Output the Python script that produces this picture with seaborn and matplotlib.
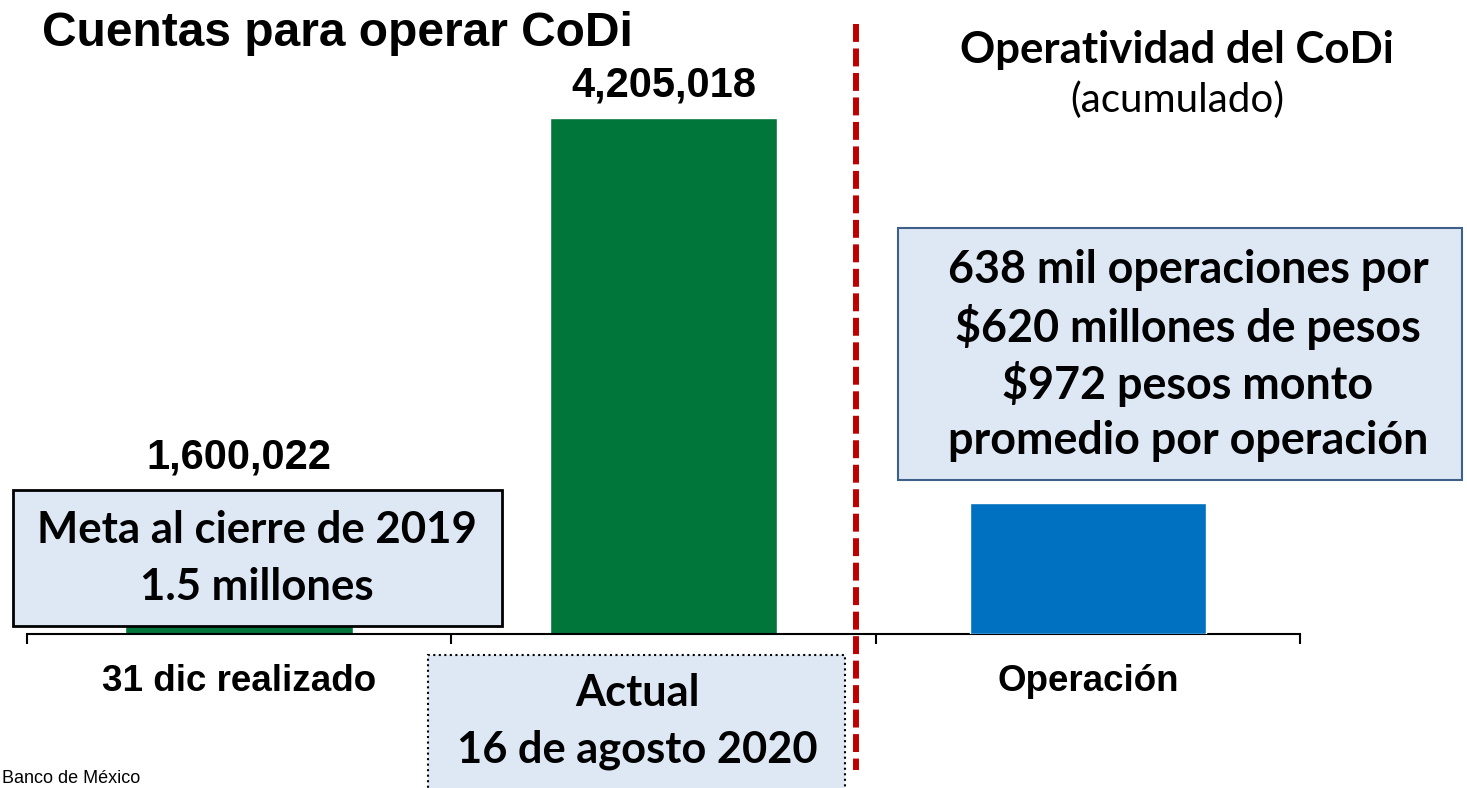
import matplotlib
matplotlib.use("Agg")
import matplotlib.pyplot as plt
import seaborn as sns
import pandas as pd
from matplotlib.patches import Rectangle
from matplotlib.lines import Line2D

# datos
categorias = ["31 dic realizado", "16 de agosto 2020", "Operación"]
etiquetas_eje = ["31 dic realizado", "", "Operación"]
cuentas = [1600022, 4205018]
etiquetas_cuentas = ["1,600,022", "4,205,018"]
operaciones_mil = [638]

verde = "#00763A"
azul = "#0070C0"
rojo = "#C00000"
relleno = "#DDE8F4"

W, H = 1467, 788
def fx(px):
    return px / W
def fy(py):
    return 1 - py / H

sns.set_style("white")
arial = ["Liberation Sans", "DejaVu Sans"]
calibri = ["Lato", "DejaVu Sans"]
plt.rcParams["font.family"] = arial
plt.rcParams["text.color"] = "black"
plt.rcParams["xtick.color"] = "black"
plt.rcParams["xtick.labelcolor"] = "black"

fig = plt.figure(figsize=(W / 100, H / 100), dpi=100)
ax = fig.add_axes([fx(27), 154 / H, 1273 / W, 614 / H])

df_cuentas = pd.DataFrame({"cat": categorias[:2], "valor": cuentas})
sns.barplot(data=df_cuentas, x="cat", y="valor", order=categorias, color=verde,
            saturation=1, width=0.536, ax=ax)
ax.set_xlim(-0.5, 2.5)
ax.set_ylim(592000, 4892000)

for i, (v, lbl) in enumerate(zip(cuentas, etiquetas_cuentas)):
    ax.annotate(lbl, (i, v), xytext=(0, 23.5), textcoords="offset points",
                ha="center", va="center", fontsize=30, fontweight="bold")

# eje secundario para las operaciones
ax2 = ax.twinx()
df_op = pd.DataFrame({"cat": [categorias[2]], "valor": operaciones_mil})
sns.barplot(data=df_op, x="cat", y="valor", order=categorias, color=azul,
            saturation=1, width=0.556, ax=ax2)
ax2.set_ylim(0, 638 * 614 / 131)
ax2.set_xlim(-0.5, 2.5)
ax2.axis("off")

for s in ["top", "right", "left"]:
    ax.spines[s].set_visible(False)
ax.spines["bottom"].set_color("black")
ax.spines["bottom"].set_linewidth(1.5)
ax.set_yticks([])
ax.set_xlabel("")
ax.set_ylabel("")
ax.set_xticks([0, 1, 2])
ax.set_xticklabels(etiquetas_eje, fontsize=26.5, fontweight="bold")
ax.set_xticks([-0.5, 0.5, 1.5, 2.5], minor=True)
ax.tick_params(axis="x", which="major", length=0, pad=21.5)
ax.tick_params(axis="x", which="minor", bottom=True, length=7.5, width=1.5,
               color="black", direction="out")
ax.grid(False)

# titulos
fig.text(fx(42), fy(33), "Cuentas para operar CoDi", fontsize=34.5, fontweight="bold",
         ha="left", va="center")
fig.text(fx(1177), fy(50), "Operatividad del CoDi", fontsize=31.5, fontweight="bold",
         ha="center", va="center", family=calibri)
fig.text(fx(1177), fy(100), "(acumulado)", fontsize=29, ha="center", va="center",
         family=calibri)

def caja(x0, y0, x1, y1, ec, lw, ls="-"):
    fig.add_artist(Rectangle((fx(x0), fy(y1)), (x1 - x0) / W, (y1 - y0) / H,
                             transform=fig.transFigure, facecolor=relleno,
                             edgecolor=ec, linewidth=lw, linestyle=ls, zorder=3))

def lineas(xc, y0, paso, textos, size=32):
    for k, t in enumerate(textos):
        fig.text(fx(xc), fy(y0 + k * paso), t, fontsize=size, fontweight="bold",
                 ha="center", va="center", family=calibri, zorder=4)

caja(13, 490, 502, 626, "black", 2)
lineas(257, 530, 57, ["Meta al cierre de 2019", "1.5 millones"], 31.5)

caja(898, 228, 1462, 480, "#3E5F8A", 1.5)
lineas(1188, 270, 57, ["638 mil operaciones por", "$620 millones de pesos",
                       "$972 pesos monto", "promedio por operación"], 32.3)

caja(428, 655, 845, 800, "black", 1.5, ":")
lineas(637, 693, 57, ["Actual", "16 de agosto 2020"], 31.2)

# separador
fig.add_artist(Line2D([fx(856), fx(856)], [fy(24), fy(770)], transform=fig.transFigure,
                      color=rojo, linewidth=4.3, linestyle=(0, (3, 1.1)), zorder=5))

fig.text(fx(2), fy(787), "Banco de México", fontsize=13, ha="left", va="bottom")

fig.savefig("out.png", dpi=100)
